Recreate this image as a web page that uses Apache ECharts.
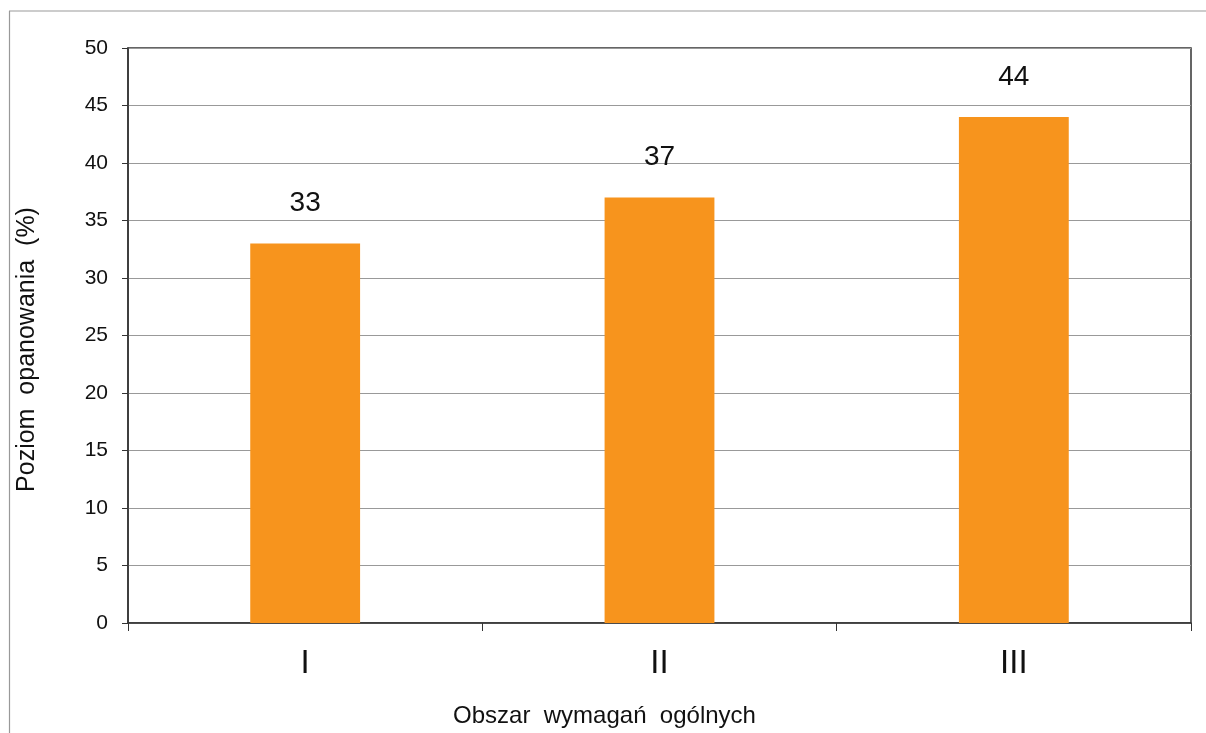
<!DOCTYPE html>
<html>
<head>
<meta charset="utf-8">
<script src="https://cdn.jsdelivr.net/npm/echarts@6/dist/echarts.min.js"></script>
<style>
html,body{margin:0;padding:0;background:#fff;}
#chart{width:1206px;height:733px;}
</style>
</head>
<body>
<div id="chart"></div>
<script>
const categories = ['I', 'II', 'III'];
const values = [33, 37, 44];
const yTicks = [0, 5, 10, 15, 20, 25, 30, 35, 40, 45, 50];
const xTitle = 'Obszar  wymagań  ogólnych';
const yTitle = 'Poziom  opanowania  (%)';

const chart = echarts.init(document.getElementById('chart'), null, {renderer: 'canvas'});
const font = 'Arial, "Liberation Sans", sans-serif';
chart.setOption({
  backgroundColor: '#fff',
  animation: false,
  grid: {
    left: 128, right: 15, top: 48, bottom: 108.5,
    show: true, borderColor: '#333', borderWidth: 1.5, backgroundColor: 'transparent'
  },
  graphic: [
    {type: 'line', shape: {x1: 9, y1: 11, x2: 1206, y2: 11}, style: {stroke: '#999', lineWidth: 1.2}, silent: true},
    {type: 'line', shape: {x1: 9.5, y1: 11, x2: 9.5, y2: 733}, style: {stroke: '#999', lineWidth: 1.2}, silent: true}
  ],
  xAxis: {
    type: 'category',
    data: categories,
    name: xTitle,
    nameLocation: 'middle',
    nameGap: 81,
    nameTextStyle: {fontFamily: font, fontSize: 24, color: '#111', padding: [0, 110, 0, 0]},
    axisLine: {show: true, lineStyle: {color: '#333', width: 1.5}},
    axisTick: {show: true, length: 8, lineStyle: {color: '#333', width: 1}},
    axisLabel: {fontFamily: font, fontSize: 33, color: '#111', margin: 24},
    splitLine: {show: false}
  },
  yAxis: {
    type: 'value',
    min: yTicks[0],
    max: yTicks[yTicks.length - 1],
    interval: yTicks[1] - yTicks[0],
    name: yTitle,
    nameLocation: 'middle',
    nameGap: 88,
    nameTextStyle: {fontFamily: font, fontSize: 25, color: '#111', padding: [0, 28, 0, 0]},
    axisLine: {show: true, lineStyle: {color: '#333', width: 1.5}},
    axisTick: {show: true, length: 6, lineStyle: {color: '#333', width: 1}},
    axisLabel: {fontFamily: font, fontSize: 21, color: '#111', margin: 20},
    splitLine: {show: true, lineStyle: {color: '#999', width: 1.2}}
  },
  series: [{
    type: 'bar',
    data: values,
    barWidth: '31%',
    itemStyle: {color: '#F7941D'},
    label: {
      show: true, position: 'top', distance: 26,
      fontFamily: font, fontSize: 28, color: '#111'
    }
  }]
});
</script>
</body>
</html>
